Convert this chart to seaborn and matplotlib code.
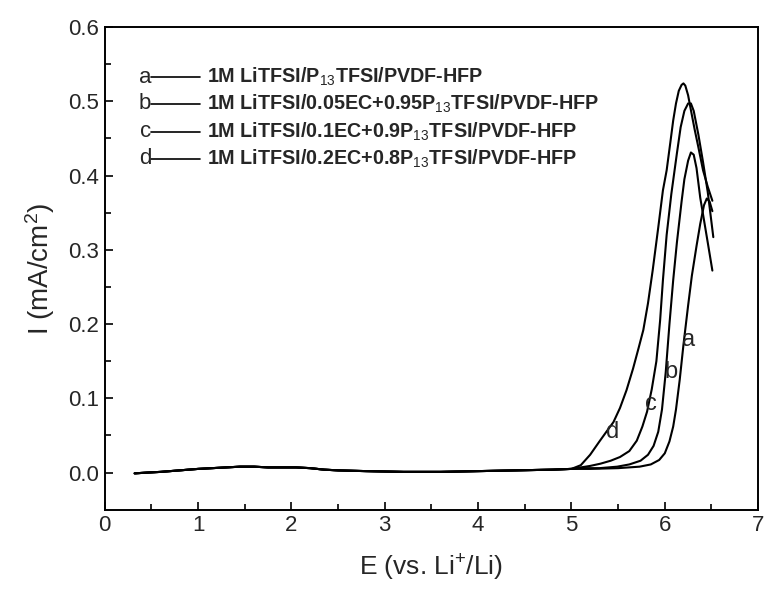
import numpy as np
import matplotlib
matplotlib.use("Agg")
import matplotlib.pyplot as plt
import seaborn as sns

sns.set_theme(style="ticks")
plt.rcParams["font.family"] = ["Liberation Sans", "DejaVu Sans"]
plt.rcParams["mathtext.fontset"] = "custom"
plt.rcParams["mathtext.rm"] = "Liberation Sans"
plt.rcParams["mathtext.it"] = "Liberation Sans:italic"
plt.rcParams["mathtext.bf"] = "Liberation Sans:bold"

# shared low-current part of all four scans (E < 5 V)
BASE_E = [0.32, 0.45, 0.6, 0.8, 1.0, 1.15, 1.3, 1.45, 1.6, 1.75, 1.9, 2.05,
          2.2, 2.35, 2.5, 2.8, 3.2, 3.6, 4.0, 4.4, 4.8, 5.0]
BASE_I = [-0.001, 0.000, 0.001, 0.003, 0.005, 0.006, 0.007, 0.008, 0.008, 0.007,
          0.007, 0.007, 0.006, 0.004, 0.003, 0.002, 0.001, 0.001, 0.002, 0.003,
          0.004, 0.005]

# oxidation branches
E_A = [5.2, 5.5, 5.73, 5.85, 5.94, 6.00, 6.05, 6.09, 6.12, 6.16, 6.20, 6.25,
       6.29, 6.34, 6.38, 6.42, 6.45, 6.48, 6.51]
I_A = [0.005, 0.006, 0.008, 0.011, 0.017, 0.026, 0.042, 0.062, 0.085, 0.125,
       0.172, 0.225, 0.265, 0.305, 0.335, 0.360, 0.369, 0.365, 0.352]

E_B = [5.1, 5.3, 5.49, 5.62, 5.74, 5.82, 5.88, 5.93, 5.97, 6.01, 6.05, 6.09,
       6.13, 6.18, 6.21, 6.25, 6.28, 6.31, 6.34, 6.38, 6.42, 6.46, 6.51]
I_B = [0.006, 0.006, 0.008, 0.011, 0.016, 0.024, 0.036, 0.055, 0.085, 0.135,
       0.200, 0.259, 0.310, 0.365, 0.395, 0.420, 0.431, 0.428, 0.410, 0.370,
       0.340, 0.310, 0.272]

E_C = [5.1, 5.2, 5.31, 5.42, 5.52, 5.62, 5.70, 5.76, 5.81, 5.86, 5.91, 5.95,
       5.98, 6.02, 6.07, 6.13, 6.17, 6.21, 6.25, 6.28, 6.31, 6.36, 6.41, 6.46,
       6.52]
I_C = [0.007, 0.009, 0.012, 0.016, 0.021, 0.029, 0.043, 0.062, 0.082, 0.112,
       0.150, 0.205, 0.259, 0.320, 0.375, 0.430, 0.465, 0.487, 0.497, 0.497,
       0.487, 0.455, 0.418, 0.378, 0.317]

E_D = [5.1, 5.2, 5.3, 5.38, 5.45, 5.52, 5.59, 5.66, 5.72, 5.77, 5.82, 5.87,
       5.93, 5.98, 6.02, 6.06, 6.09, 6.12, 6.15, 6.18, 6.20, 6.22, 6.25, 6.28,
       6.32, 6.36, 6.41, 6.46, 6.51]
I_D = [0.010, 0.024, 0.042, 0.056, 0.068, 0.087, 0.111, 0.140, 0.168, 0.192,
       0.228, 0.272, 0.330, 0.380, 0.407, 0.445, 0.474, 0.497, 0.514, 0.522,
       0.524, 0.521, 0.508, 0.488, 0.462, 0.438, 0.407, 0.385, 0.366]

LETTERS = ["a", "b", "c", "d"]
NAMES = [r"1M LiTFSI/P$_{13}$TFSI/PVDF-HFP",
         r"1M LiTFSI/0.05EC+0.95P$_{13}$TFSI/PVDF-HFP",
         r"1M LiTFSI/0.1EC+0.9P$_{13}$TFSI/PVDF-HFP",
         r"1M LiTFSI/0.2EC+0.8P$_{13}$TFSI/PVDF-HFP"]
# where the curve letters sit on the rising branches
LETTER_E = [6.26, 6.07, 5.85, 5.44]
LETTER_I = [0.178, 0.135, 0.092, 0.055]

fig = plt.figure(figsize=(7.65, 5.99), dpi=100)
ax = fig.add_axes([0.137, 0.149, 0.854, 0.806])

curves = [(E_A, I_A), (E_B, I_B), (E_C, I_C), (E_D, I_D)]
for (e, i) in curves:
    x = np.concatenate([BASE_E, e])
    y = np.concatenate([BASE_I, i])
    sns.lineplot(x=x, y=y, ax=ax, color="black", linewidth=1.5,
                 sort=False, estimator=None)

for lt, xe, yi in zip(LETTERS, LETTER_E, LETTER_I):
    ax.text(xe, yi, lt, fontsize=17, ha="center", va="center")

# hand-made legend: letter, short line, description
rows_y = [0.896, 0.841, 0.783, 0.727]
for lt, name, ry in zip(LETTERS, NAMES, rows_y):
    ax.text(0.071, ry, lt, transform=ax.transAxes, fontsize=16,
            ha="right", va="center")
    ax.plot([0.071, 0.145], [ry, ry], transform=ax.transAxes,
            color="black", linewidth=1.2)
    ax.text(0.156, ry, name, transform=ax.transAxes, fontsize=14.2,
            fontweight="bold", ha="left", va="center")

ax.set_xlim(0, 7)
ax.set_ylim(-0.05, 0.6)
ax.set_xticks(range(0, 8))
ax.set_yticks([0.0, 0.1, 0.2, 0.3, 0.4, 0.5, 0.6])
ax.set_yticklabels(["0.0", "0.1", "0.2", "0.3", "0.4", "0.5", "0.6"])
ax.set_xticks(np.arange(0.5, 7, 1.0), minor=True)
ax.set_yticks(np.arange(0.05, 0.6, 0.1), minor=True)
ax.tick_params(which="both", direction="in", top=False, right=False,
               labelsize=16, color="black", width=1.2)
ax.tick_params(which="major", length=6, pad=4)
ax.tick_params(which="minor", length=4)
for sp in ax.spines.values():
    sp.set_visible(True)
    sp.set_color("black")
    sp.set_linewidth(1.4)

ax.set_xlabel(r"E (vs. Li$^{+}$/Li)", fontsize=19, labelpad=12)
ax.set_ylabel(r"I (mA/cm$^{2}$)", fontsize=20, labelpad=8)

fig.savefig("out.png", dpi=100)
